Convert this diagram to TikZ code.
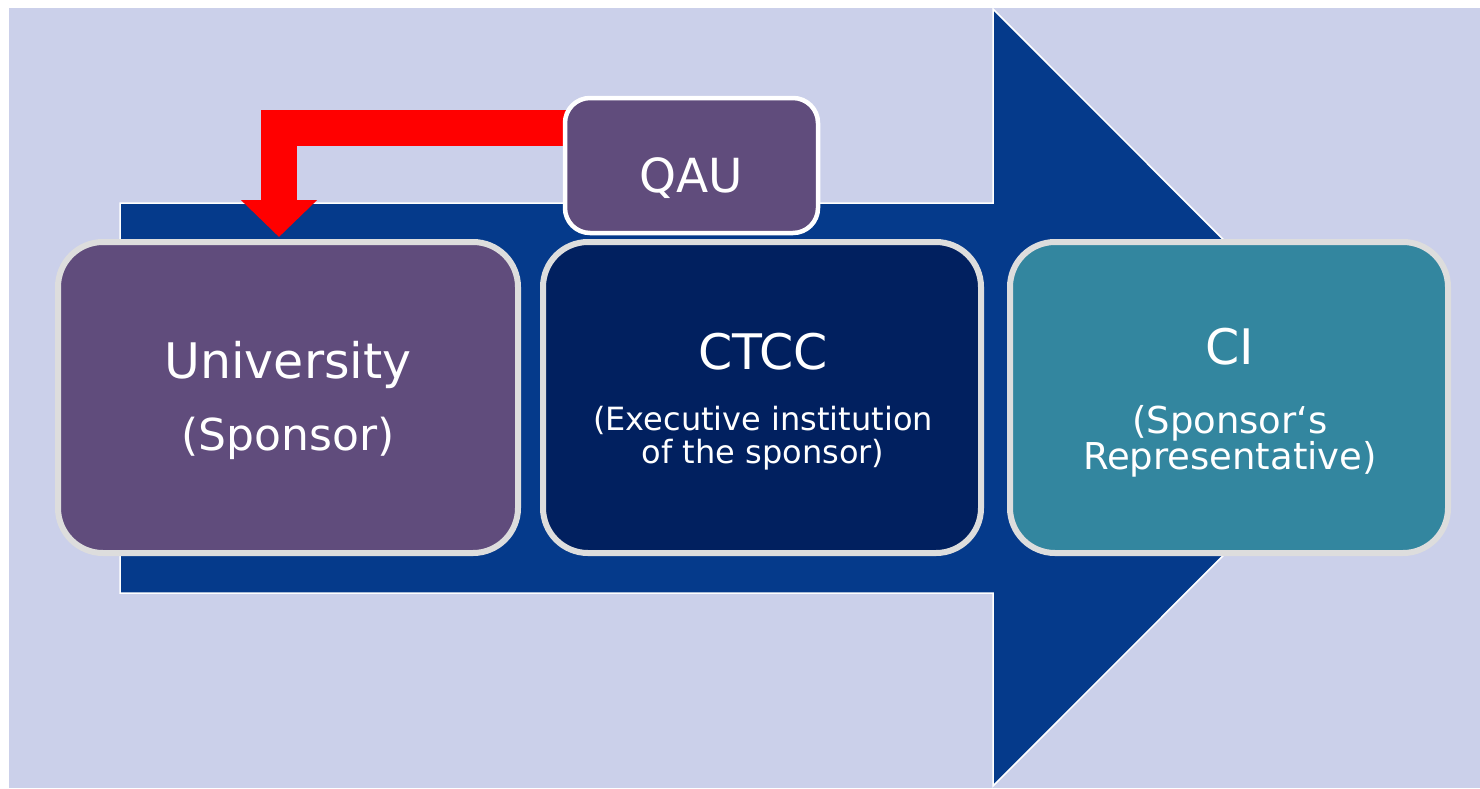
\documentclass[tikz,border=0pt]{standalone}
\usepackage{fontspec}
\setmainfont{DejaVu Sans}
\usetikzlibrary{arrows.meta}
\definecolor{bgc}{HTML}{CBD0EA}
\definecolor{arrowblue}{HTML}{053A8B}
\definecolor{purplebox}{HTML}{604C7C}
\definecolor{navybox}{HTML}{01205F}
\definecolor{tealbox}{HTML}{33869F}
\definecolor{rimgray}{HTML}{DDDDDD}
\tikzset{
  bigbox/.style={draw=rimgray, line width=6pt, rounded corners=45pt, inner sep=0pt,
    minimum width=438pt, minimum height=311pt},
  smallbox/.style={draw=white, line width=4.5pt, rounded corners=25pt, inner sep=0pt,
    minimum width=253pt, minimum height=135pt, fill=purplebox},
  title/.style={text=white, anchor=base, inner sep=0pt, font=\fontsize{49}{58}\selectfont},
  sub/.style={text=white, anchor=base, inner sep=0pt},
}
\begin{document}
\begin{tikzpicture}[x=1pt,y=-1pt]
\useasboundingbox (0,0) rectangle (1480,788);
\fill[bgc] (9,8) rectangle (1480,788);
% big blue arrow
\draw[fill=arrowblue, draw=white, line width=1.5pt]
  (120,203) -- (993,203) -- (993,9) -- (1381,397.5) -- (993,786) -- (993,593) -- (120,593) -- cycle;
% red block arrow
\coordinate (rstart) at (567,128);
\coordinate (rend) at (279,237);
\draw[red, line width=36pt, line join=miter, -{Triangle[width=74pt 0 0, length=37pt 0 0]}]
  (rstart) -| (rend);
% boxes
\node[bigbox, fill=purplebox, minimum width=460pt] (univ) at (288,397.5) {};
\node[bigbox, fill=navybox] (ctcc) at (762,397.5) {};
\node[bigbox, fill=tealbox] (ci) at (1229,397.5) {};
\node[smallbox] (qau) at (691.5,165.5) {};
% texts
\node[title] (univt) at (288,378) {University};
\node[sub, font=\fontsize{44}{52}\selectfont] (univs) at (288,450) {(Sponsor)};
\node[title] (ctcct) at (763,369) {CTCC};
\node[sub, font=\fontsize{32}{38}\selectfont] (ctccs1) at (763,430) {(Executive institution};
\node[sub, font=\fontsize{32}{38}\selectfont] (ctccs2) at (763,463) {of the sponsor)};
\node[title] (cit) at (1229.5,364) {CI};
\node[sub, font=\fontsize{37}{44}\selectfont] (cis1) at (1230,433) {(Sponsor‘s};
\node[sub, font=\fontsize{37}{44}\selectfont] (cis2) at (1230,469) {Representative)};
\node[title, font=\fontsize{47}{56}\selectfont] (qaut) at (691,192) {QAU};
\end{tikzpicture}
\end{document}
